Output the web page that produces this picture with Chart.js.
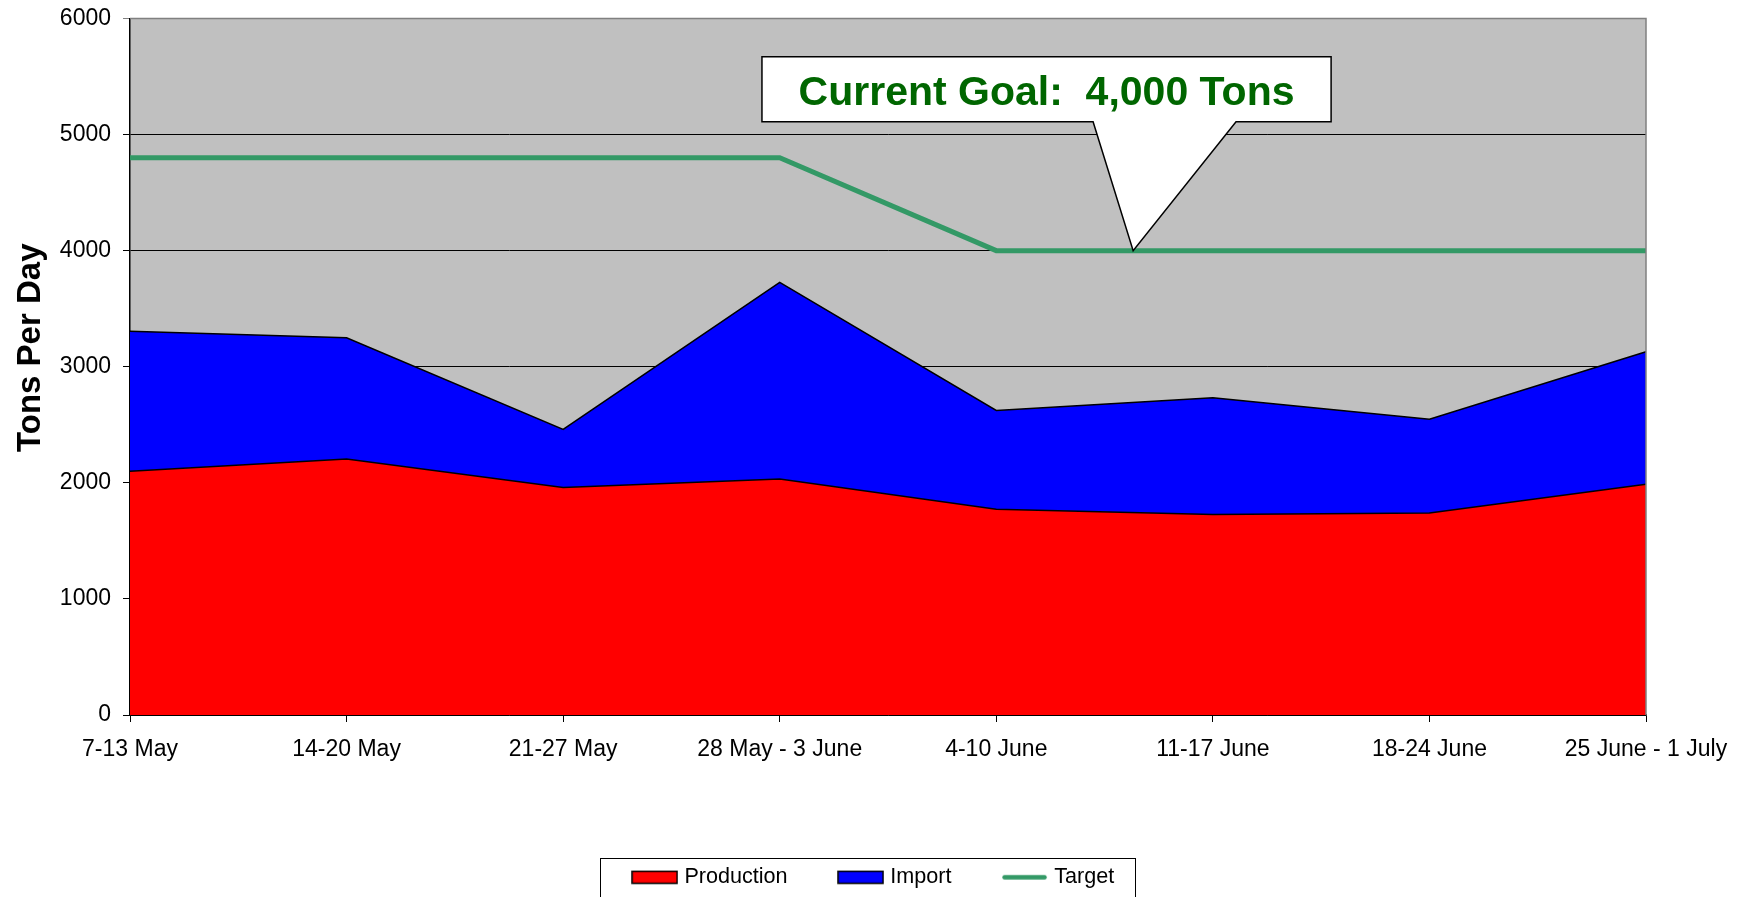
<!DOCTYPE html>
<html>
<head>
<meta charset="utf-8">
<script src="https://cdn.jsdelivr.net/npm/chart.js@4.4.1/dist/chart.umd.min.js"></script>
<style>
html,body{margin:0;padding:0;background:#ffffff;}
#wrap{width:1750px;height:897px;position:relative;}
canvas{display:block;}
</style>
</head>
<body>
<div id="wrap"><canvas id="c" width="1750" height="897"></canvas></div>
<script>
// ---- data ----
const weeks = ['7-13 May', '14-20 May', '21-27 May', '28 May - 3 June', '4-10 June', '11-17 June', '18-24 June', '25 June - 1 July'];
const production = [2100, 2205, 1960, 2033, 1772, 1727, 1740, 1987];
const imports = [1205, 1045, 500, 1694, 852, 1006, 808, 1143];
const target = [4800, 4800, 4800, 4800, 4000, 4000, 4000, 4000];
const seriesNames = ['Production', 'Import', 'Target'];
const yTitle = 'Tons Per Day';
const goalText = 'Current Goal:  4,000 Tons';
const goalValue = 4000;

const FONT = "'Liberation Sans', Arial, Helvetica, sans-serif";

// callout anchored on the chart scales (category index / value)
const callout = {
  tipIndex: 4.632, tipValue: goalValue,
  leftIndex: 2.918, rightIndex: 5.546,
  baseLeftIndex: 4.447, baseRightIndex: 5.107,
  topValue: 5671, bottomValue: 5111
};

// legend swatches drawn as small canvases (used as Chart.js point styles)
function makeSwatch(kind, color) {
  const c = document.createElement('canvas');
  c.width = 47; c.height = 15;
  const g = c.getContext('2d');
  if (kind === 'rect') {
    g.fillStyle = color;
    g.fillRect(1, 1.5, 45, 12);
    g.strokeStyle = '#000000';
    g.lineWidth = 1.5;
    g.strokeRect(1, 1.5, 45, 12);
  } else {
    g.strokeStyle = color;
    g.lineWidth = 4.5;
    g.lineCap = 'round';
    g.beginPath();
    g.moveTo(3.5, 7.5);
    g.lineTo(43.5, 7.5);
    g.stroke();
  }
  return c;
}

const bgPlugin = {
  id: 'bg',
  beforeDraw(chart) {
    const {ctx, chartArea: a} = chart;
    ctx.save();
    ctx.fillStyle = '#ffffff';
    ctx.fillRect(0, 0, chart.width, chart.height);
    ctx.fillStyle = '#C0C0C0';
    ctx.fillRect(a.left, a.top, a.right - a.left, a.bottom - a.top);
    ctx.restore();
  }
};

const framePlugin = {
  id: 'frame',
  afterDatasetsDraw(chart) {
    const {ctx, chartArea: a, scales} = chart;
    ctx.save();
    ctx.strokeStyle = '#808080';
    ctx.lineWidth = 1.5;
    ctx.beginPath();
    ctx.moveTo(a.left, a.top);
    ctx.lineTo(a.right, a.top);
    ctx.lineTo(a.right, a.bottom);
    ctx.stroke();

    const x = scales.x, y = scales.y;
    const L = x.getPixelForValue(callout.leftIndex);
    const R = x.getPixelForValue(callout.rightIndex);
    const T = y.getPixelForValue(callout.topValue);
    const B = y.getPixelForValue(callout.bottomValue);
    const bl = x.getPixelForValue(callout.baseLeftIndex);
    const br = x.getPixelForValue(callout.baseRightIndex);
    const tx = x.getPixelForValue(callout.tipIndex);
    const ty = y.getPixelForValue(callout.tipValue);
    ctx.beginPath();
    ctx.moveTo(L, T);
    ctx.lineTo(R, T);
    ctx.lineTo(R, B);
    ctx.lineTo(br, B);
    ctx.lineTo(tx, ty);
    ctx.lineTo(bl, B);
    ctx.lineTo(L, B);
    ctx.closePath();
    ctx.fillStyle = '#ffffff';
    ctx.fill();
    ctx.strokeStyle = '#000000';
    ctx.lineWidth = 1.5;
    ctx.lineJoin = 'miter';
    ctx.stroke();
    ctx.fillStyle = '#006600';
    ctx.font = 'bold 41px ' + FONT;
    ctx.textAlign = 'center';
    ctx.textBaseline = 'alphabetic';
    ctx.fillText(goalText, (L + R) / 2, T + (B - T) * 0.743);
    ctx.restore();
  },
  afterDraw(chart) {
    const {ctx, chartArea: a} = chart;
    ctx.save();
    ctx.translate(39.5, (a.top + a.bottom) / 2 - 19);
    ctx.rotate(-Math.PI / 2);
    ctx.font = 'bold 33px ' + FONT;
    ctx.fillStyle = '#000000';
    ctx.textAlign = 'center';
    ctx.textBaseline = 'alphabetic';
    ctx.fillText(yTitle, 0, 0);
    ctx.restore();

    const lg = chart.legend;
    if (lg && lg.legendHitBoxes && lg.legendHitBoxes.length) {
      const hb = lg.legendHitBoxes;
      const first = hb[0], last = hb[hb.length - 1];
      const cy = first.top + first.height / 2;
      const left = first.left - 36;
      const right = last.left + last.width + 21;
      ctx.save();
      ctx.strokeStyle = '#000000';
      ctx.lineWidth = 1;
      ctx.strokeRect(Math.round(left) + 0.5, Math.round(cy - 19.5) + 0.5, Math.round(right - left), 80);
      ctx.restore();
    }
  }
};

const swatches = [makeSwatch('rect', '#FF0000'), makeSwatch('rect', '#0000FF'), makeSwatch('line', '#339966')];

new Chart(document.getElementById('c'), {
  type: 'line',
  data: {
    labels: weeks,
    datasets: [
      {
        label: seriesNames[0], data: production, stack: 'supply',
        backgroundColor: '#FF0000', borderColor: '#000000', borderWidth: 1.5,
        fill: 'origin', pointRadius: 0, tension: 0
      },
      {
        label: seriesNames[1], data: imports, stack: 'supply',
        backgroundColor: '#0000FF', borderColor: '#000000', borderWidth: 1.5,
        fill: '-1', pointRadius: 0, tension: 0
      },
      {
        label: seriesNames[2], data: target, stack: 'goal',
        backgroundColor: '#339966', borderColor: '#339966', borderWidth: 5,
        fill: false, pointRadius: 0, tension: 0
      }
    ]
  },
  options: {
    responsive: false,
    animation: false,
    devicePixelRatio: 1,
    layout: { padding: { left: 0, right: 0, top: 18.5, bottom: 0 } },
    plugins: {
      tooltip: { enabled: false },
      title: { display: false },
      legend: {
        position: 'bottom',
        maxHeight: 84.6,
        labels: {
          usePointStyle: true,
          pointStyleWidth: 37.8,
          boxHeight: 12,
          padding: 54.1,
          color: '#000000',
          font: { family: FONT, size: 21.6 },
          generateLabels(chart) {
            return chart.data.datasets.map((ds, i) => ({
              text: ds.label,
              fillStyle: i === 2 ? ds.borderColor : ds.backgroundColor,
              strokeStyle: i === 2 ? ds.borderColor : '#000000',
              lineWidth: 0,
              pointStyle: swatches[i],
              hidden: false,
              datasetIndex: i,
              fontColor: '#000000'
            }));
          }
        }
      }
    },
    scales: {
      x: {
        type: 'category',
        offset: false,
        grid: { display: true, drawOnChartArea: false, drawTicks: true, tickLength: 7, color: '#000000', lineWidth: 1 },
        border: { display: true, color: '#000000', width: 1.5 },
        ticks: { color: '#000000', font: { family: FONT, size: 23 }, padding: 13.5, maxRotation: 0, minRotation: 0, autoSkip: false },
        afterFit(s) { s.height = 97.4; s.paddingRight = 104; s.paddingLeft = 0; }
      },
      y: {
        stacked: true,
        min: 0, max: 6000,
        grid: {
          color: (c) => (c.tick && c.tick.value === 6000) ? '#808080' : '#000000',
          lineWidth: 1, tickLength: 7, drawTicks: true
        },
        border: { display: true, color: '#000000', width: 1.5 },
        ticks: {
          stepSize: 1000, color: '#000000', padding: 12,
          font: { family: FONT, size: 23 },
          callback: (v) => String(v)
        },
        afterFit(s) { s.width = 130; s.paddingTop = 0; s.paddingBottom = 0; }
      }
    }
  },
  plugins: [bgPlugin, framePlugin]
});
</script>
</body>
</html>
